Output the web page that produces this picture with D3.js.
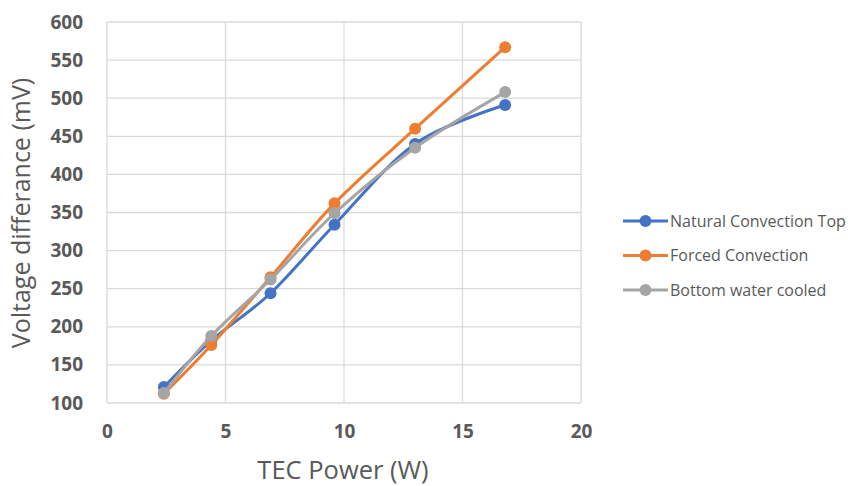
<!DOCTYPE html>
<html>
<head>
<meta charset="utf-8">
<script src="https://cdn.jsdelivr.net/npm/d3@7"></script>
<style>
  body { margin: 0; background: #fff; }
  svg { display: block; font-family: "Open Sans", sans-serif; }
</style>
</head>
<body>
<script>
const power = [2.4, 4.4, 6.9, 9.6, 13, 16.8];
const naturalTop = [121, 182, 244, 334, 440, 491];
const forced = [112, 176, 265, 362, 460, 567];
const bottomWater = [113, 188, 262, 349, 435, 508];
const seriesNames = ["Natural Convection Top", "Forced Convection", "Bottom water cooled"];
const seriesColors = ["#4472C4", "#ED7D31", "#A5A5A5"];
const xTicks = [0, 5, 10, 15, 20];
const yTicks = [100, 150, 200, 250, 300, 350, 400, 450, 500, 550, 600];

const width = 848, height = 486;
const plotLeft = 107, plotRight = 581, plotTop = 22, plotBottom = 403;

const svg = d3.select("body").append("svg")
  .attr("width", width)
  .attr("height", height);

const x = d3.scaleLinear().domain([0, 20]).range([plotLeft, plotRight]);
const y = d3.scaleLinear().domain([100, 600]).range([plotBottom, plotTop]);

//Gridlines
svg.append("g")
  .selectAll("line")
  .data(yTicks)
  .enter()
  .append("line")
  .attr("x1", plotLeft).attr("x2", plotRight)
  .attr("y1", (d) => y(d)).attr("y2", (d) => y(d))
  .attr("stroke", "#d9d9d9").attr("stroke-width", 1.3);

svg.append("g")
  .selectAll("line")
  .data(xTicks)
  .enter()
  .append("line")
  .attr("x1", (d) => x(d)).attr("x2", (d) => x(d))
  .attr("y1", plotTop).attr("y2", plotBottom)
  .attr("stroke", "#d9d9d9").attr("stroke-width", 1.3);

//Axes (labels only)
const yAxis = svg.append("g")
  .attr("transform", "translate(" + (plotLeft - 4) + ",0)")
  .call(d3.axisLeft(y).tickValues(yTicks).tickSize(0).tickPadding(20));
const xAxis = svg.append("g")
  .attr("transform", "translate(0," + plotBottom + ")")
  .call(d3.axisBottom(x).tickValues(xTicks).tickSize(0).tickPadding(22));
[xAxis, yAxis].forEach((g) => {
  g.select(".domain").remove();
  g.selectAll("text")
    .attr("fill", "#595959")
    .style("font-size", "19px")
    .style("font-weight", "bold")
    .style("font-family", "'Open Sans', sans-serif");
});

//Axis titles
svg.append("text")
  .attr("x", 343)
  .attr("y", 479)
  .attr("text-anchor", "middle")
  .attr("fill", "#595959")
  .style("font-size", "25.5px")
  .text("TEC Power (W)");

svg.append("text")
  .attr("transform", "translate(30,213) rotate(-90)")
  .attr("text-anchor", "middle")
  .attr("fill", "#595959")
  .style("font-size", "25px")
  .text("Voltage differance (mV)");

//Series
const allSeries = [naturalTop, forced, bottomWater];
const line = d3.line()
  .x((d, i) => x(power[i]))
  .y((d) => y(d))
  .curve(d3.curveCardinal.tension(0));

allSeries.forEach((vals, k) => {
  svg.append("path")
    .datum(vals)
    .attr("d", line)
    .attr("fill", "none")
    .attr("stroke", seriesColors[k])
    .attr("stroke-width", 3);
  svg.append("g")
    .selectAll("circle")
    .data(vals)
    .enter()
    .append("circle")
    .attr("cx", (d, i) => x(power[i]))
    .attr("cy", (d) => y(d))
    .attr("r", 6)
    .attr("fill", seriesColors[k]);
});

//Legend
const legend = svg.append("g")
  .selectAll("g")
  .data(seriesNames)
  .enter()
  .append("g")
  .attr("transform", (d, i) => "translate(623," + (221 + i * 34.5) + ")");
legend.append("line")
  .attr("x1", 0).attr("x2", 45)
  .attr("stroke", (d, i) => seriesColors[i])
  .attr("stroke-width", 3);
legend.append("circle")
  .attr("cx", 22.5).attr("r", 6)
  .attr("fill", (d, i) => seriesColors[i]);
legend.append("text")
  .attr("x", 47)
  .attr("dy", "0.35em")
  .attr("fill", "#595959")
  .style("font-size", "16px")
  .text((d) => d);
</script>
</body>
</html>
